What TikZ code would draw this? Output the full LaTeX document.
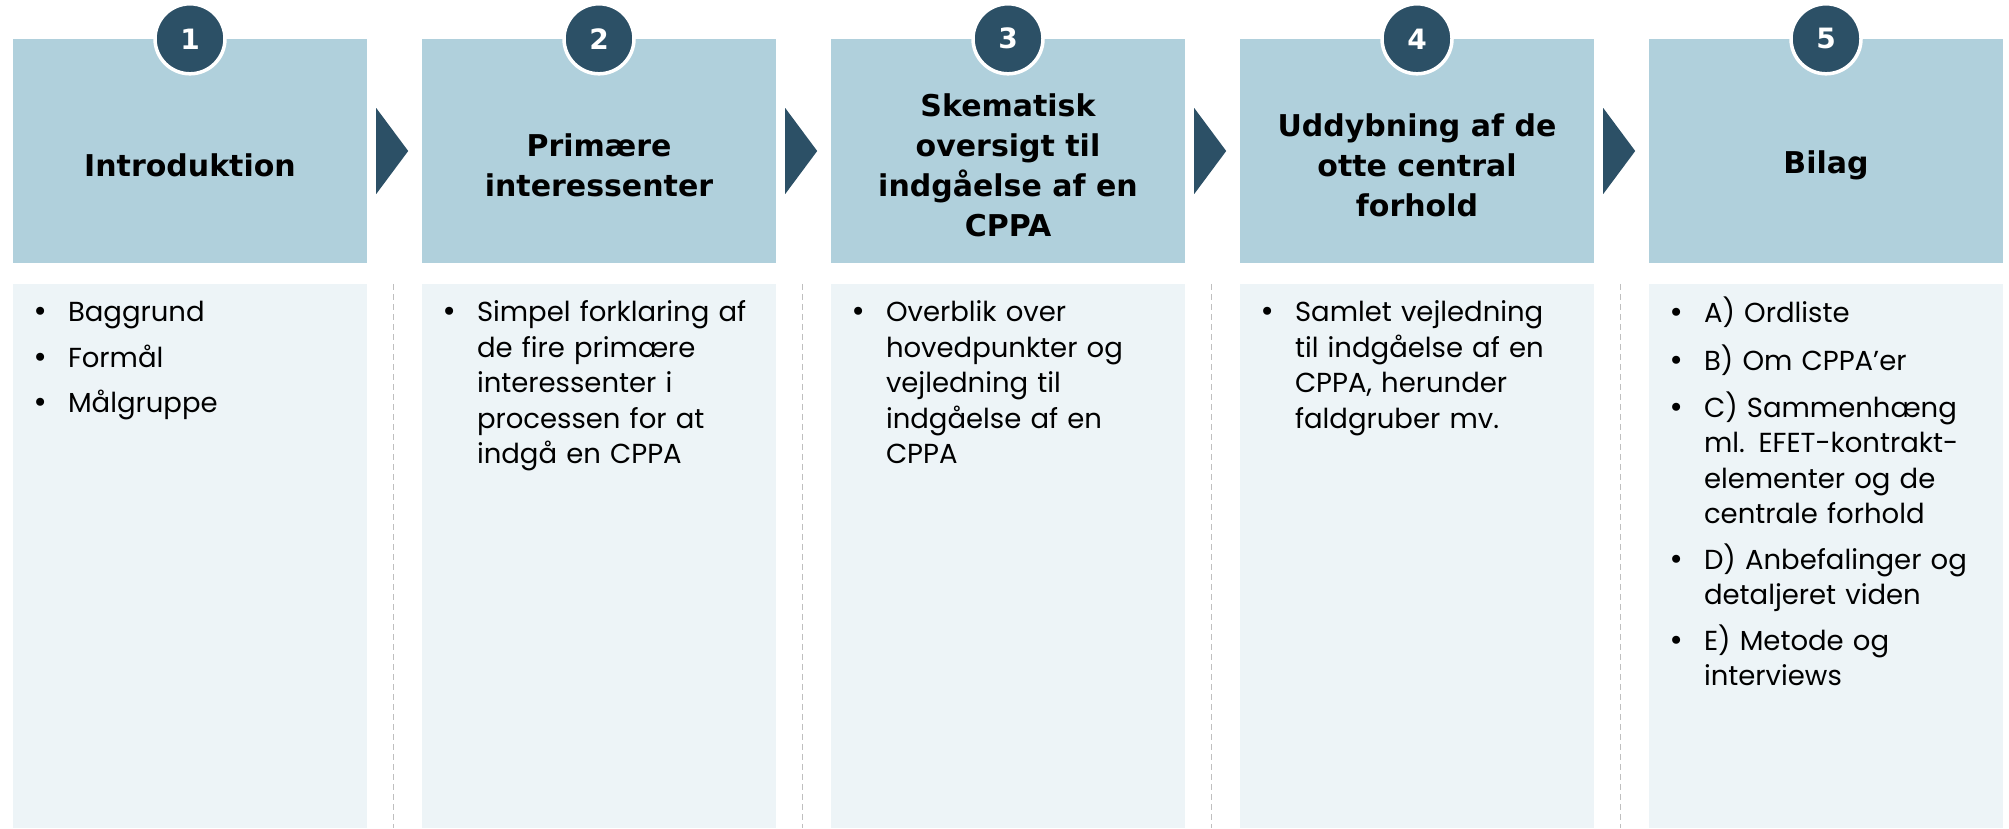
\documentclass[tikz,border=0pt]{standalone}
\usepackage{fontspec}
\setmainfont{Poppins}
\newfontfamily\headfont{DejaVu Sans}
\usetikzlibrary{positioning}
\definecolor{navy}{HTML}{2C5066}
\definecolor{headblue}{HTML}{B0D0DC}
\definecolor{bodyblue}{HTML}{EDF4F7}
\definecolor{sepgray}{HTML}{BFBFBF}
\newcommand{\bitem}[1]{\hangindent=37pt\hangafter=1\noindent\makebox[37pt][l]{\hspace{1pt}{\headfont\textbullet}}\strut#1\par}
\tikzset{
  headbox/.style={fill=headblue, minimum width=354pt, minimum height=224pt, inner sep=0pt},
  headtext/.style={font=\headfont\bfseries\fontsize{30}{40}\selectfont, align=center, text=black},
  numcircle/.style={circle, fill=navy, draw=white, line width=3.5pt, minimum size=70pt, inner sep=0pt, text=white, font=\headfont\bfseries\fontsize{28}{30}\selectfont},
  bodybox/.style={fill=bodyblue, minimum width=354pt, minimum height=544pt, inner sep=0pt},
  bodytext/.style={text width=336pt, inner sep=0pt, align=left, anchor=north west, font=\fontsize{27.5}{35.5}\selectfont},
  stepsep/.style={sepgray, line width=1pt, dash pattern=on 6pt off 4pt},
  steparrow/.style={fill=navy}
}
\begin{document}
\begin{tikzpicture}[x=1pt, y=-1pt]
\useasboundingbox (0,0) rectangle (2009,828);
% columns
\foreach \i in {1,...,5}{
  \pgfmathsetmacro{\xc}{190+409*(\i-1)}
  \node[headbox] (head\i) at (\xc,151) {};
  \node[bodybox] (body\i) at (\xc,556) {};
  \node[numcircle] (num\i) at (head\i.north) {\i};
}
% arrows and separators
\foreach \i in {1,...,4}{
  \fill[steparrow] ([shift={(9,-43)}]head\i.east) -- ([shift={(41,0)}]head\i.east) -- ([shift={(9,43)}]head\i.east) -- cycle;
  \draw[stepsep] ([xshift=26.5pt]body\i.north east) -- ([xshift=26.5pt]body\i.south east);
}
% headings
\node[headtext] (htext1) at ([yshift=-14pt]head1.center) {Introduktion};
\node[headtext] (htext2) at ([yshift=-14pt]head2.center) {Primære\\interessenter};
\node[headtext] (htext3) at ([yshift=-14pt]head3.center) {Skematisk\\oversigt til\\indgåelse af en\\CPPA};
\node[headtext] (htext4) at ([yshift=-14pt]head4.center) {Uddybning af de\\otte central\\forhold};
\node[headtext] (htext5) at ([yshift=-14pt]head5.center) {Bilag};
% bullet texts
\node[bodytext] (btext1) at ([shift={(18,13)}]body1.north west) {\setlength{\parskip}{10pt}%
  \bitem{Baggrund}\bitem{Formål}\bitem{Målgruppe}};
\node[bodytext] (btext2) at ([shift={(18,13)}]body2.north west) {\setlength{\parskip}{10pt}%
  \bitem{Simpel forklaring af\newline de fire primære\newline interessenter i\newline processen for at\newline indgå en CPPA}};
\node[bodytext] (btext3) at ([shift={(18,13)}]body3.north west) {\setlength{\parskip}{10pt}%
  \bitem{Overblik over\newline hovedpunkter og\newline vejledning til\newline indgåelse af en\newline CPPA}};
\node[bodytext] (btext4) at ([shift={(18,13)}]body4.north west) {\setlength{\parskip}{10pt}%
  \bitem{Samlet vejledning\newline til indgåelse af en\newline CPPA, herunder\newline faldgruber mv.}};
\node[bodytext] (btext5) at ([shift={(18,13)}]body5.north west) {\setlength{\parskip}{10pt}%
  \bitem{A) Ordliste}\bitem{B) Om CPPA’er}%
  \bitem{C) Sammenhæng\newline ml. EFET-kontrakt-\newline elementer og de\newline centrale forhold}%
  \bitem{D) Anbefalinger og\newline detaljeret viden}\bitem{E) Metode og\newline interviews}};
\end{tikzpicture}
\end{document}
